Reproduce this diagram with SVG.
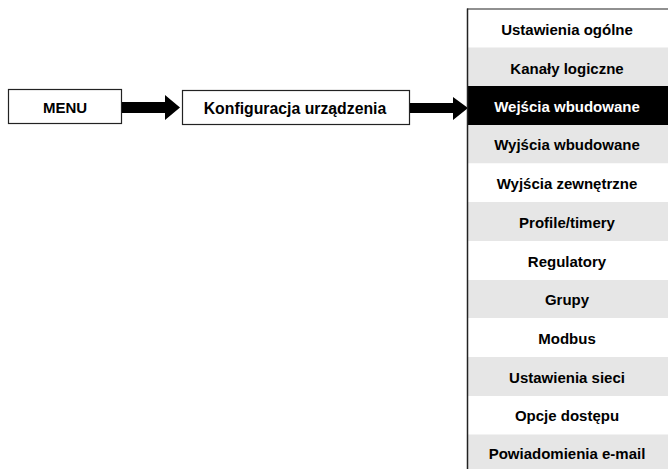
<svg xmlns="http://www.w3.org/2000/svg" width="668" height="469" viewBox="0 0 668 469">
<style>
text{font-family:"Liberation Sans",Arial,sans-serif;font-weight:bold;font-size:15px;text-anchor:middle;fill:#000}
.box{fill:#fff;stroke:#222;stroke-width:1.2}
.w{fill:#fff}
.g{fill:#e6e6e6}
.b{fill:#000}
.wt{fill:#fff}
</style>
<rect width="668" height="469" fill="#fff"/>
<g id="menu">
<rect class="box" x="8.5" y="89.5" width="113" height="34"/>
<text x="65" y="113">MENU</text>
</g>
<g id="konfiguracja">
<rect class="box" x="182.5" y="90.5" width="227" height="34"/>
<text x="295" y="114" style="font-size:15.8px">Konfiguracja urządzenia</text>
</g>
<g id="connectors">
<polygon points="122,102 165,102 165,95 180,107.5 165,120 165,113 122,113" fill="#000"/>
<polygon points="410,103 453,103 453,97 468,108 453,120 453,113 410,113" fill="#000"/>
</g>
<g id="submenu">
<g id="r0"><rect class="w" x="467" y="9" width="201" height="38.5"/><text x="567" y="34.5">Ustawienia ogólne</text></g>
<g id="r1"><rect class="g" x="467" y="47.5" width="201" height="38.5"/><text x="567" y="73.5">Kanały logiczne</text></g>
<g id="r2"><rect class="b" x="467" y="86" width="201" height="39"/><text class="wt" x="567" y="112">Wejścia wbudowane</text></g>
<g id="r3"><rect class="g" x="467" y="125" width="201" height="38.5"/><text x="567" y="149.5">Wyjścia wbudowane</text></g>
<g id="r4"><rect class="w" x="467" y="163.5" width="201" height="38.5"/><text x="567" y="189">Wyjścia zewnętrzne</text></g>
<g id="r5"><rect class="g" x="467" y="202" width="201" height="39"/><text x="567" y="228">Profile/timery</text></g>
<g id="r6"><rect class="w" x="467" y="241" width="201" height="39"/><text x="567" y="266.7">Regulatory</text></g>
<g id="r7"><rect class="g" x="467" y="280" width="201" height="38"/><text x="567" y="305">Grupy</text></g>
<g id="r8"><rect class="w" x="467" y="318" width="201" height="39"/><text x="567" y="344">Modbus</text></g>
<g id="r9"><rect class="g" x="467" y="357" width="201" height="39"/><text x="567" y="382.7">Ustawienia sieci</text></g>
<g id="r10"><rect class="w" x="467" y="396" width="201" height="38.5"/><text x="567" y="420.7">Opcje dostępu</text></g>
<g id="r11"><rect class="g" x="467" y="434.5" width="201" height="34.5"/><text x="567" y="459">Powiadomienia e-mail</text></g>
<line x1="467.5" y1="8.5" x2="467.5" y2="469" stroke="#222" stroke-width="1.5"/>
<line x1="467" y1="9" x2="668" y2="9" stroke="#222" stroke-width="1.2"/>
</g>
</svg>
